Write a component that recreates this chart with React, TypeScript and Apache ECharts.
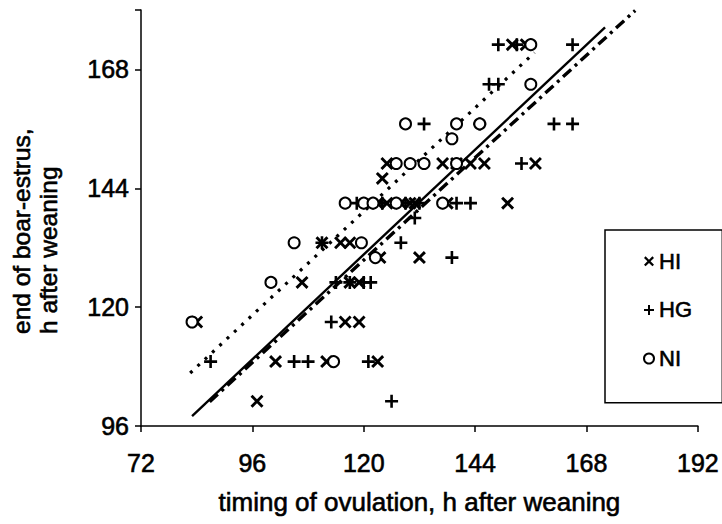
import React, { useEffect, useRef } from "react";
import * as echarts from "echarts";

// HI (×)
const hiX = [84, 97, 101, 106.7, 111, 112, 115, 117, 116, 119, 117, 119, 123, 121, 123, 124, 125, 123.5, 125, 128, 130, 131, 132, 137, 138, 140, 143, 146, 151, 152, 155, 157];
const hiY = [117, 101, 109, 125, 133, 109, 133, 133, 117, 117, 125, 125, 109, 141, 141, 146, 149, 130, 141, 141, 141, 141, 130, 149, 141, 149, 149, 149, 141, 173, 173, 149];
// HG (+)
const hgX = [87, 105, 108, 111, 113, 114, 117, 120, 121.5, 121, 118.5, 124, 126, 128, 129, 131, 132, 133, 139, 140, 143, 145, 147, 149, 149, 153, 154, 161, 165, 165];
const hgY = [109, 109, 109, 133, 117, 125, 125, 125, 125, 109, 141, 141, 101, 133, 141, 138, 141, 157, 130, 141, 141, 157, 165, 165, 173, 173, 149, 157, 157, 173];
// NI (o)
const niX = [83, 100, 105, 113.5, 116, 119.5, 120, 122, 122.5, 127, 127, 129, 130, 133, 137, 139, 140, 140, 145, 156, 156];
const niY = [117, 125, 133, 109, 141, 133, 141, 141, 130, 141, 149, 157, 149, 149, 141, 154, 149, 157, 157, 165, 173];

// regression lines (end points)
const solidX = [83, 172];
const solidY = [98.0, 176.5];
const dottedX = [82.6, 156.8];
const dottedY = [106.7, 171.4];
const dashDotX = [86.8, 178.5];
const dashDotY = [100.9, 179.9];

const xTicks = [72, 96, 120, 144, 168, 192];
const yTicks = [96, 120, 144, 168];

const FONT = "'Liberation Sans', Arial, sans-serif";

const CROSS = "path://M0,1.9L1.9,0L6,4.1L10.1,0L12,1.9L7.9,6L12,10.1L10.1,12L6,7.9L1.9,12L0,10.1L4.1,6Z";
const PLUS = "path://M4.8,0H7.2V4.8H12V7.2H7.2V12H4.8V7.2H0V4.8H4.8Z";

const zip = (xs: number[], ys: number[]) => xs.map((x, i) => [x, ys[i]]);

const txt = { color: "#000", fontFamily: FONT, textBorderColor: "#000", textBorderWidth: 0.6 };

export default function App() {
  const ref = useRef<HTMLDivElement>(null);
  useEffect(() => {
    if (!ref.current) return;
    const chart = echarts.init(ref.current, undefined, { renderer: "svg" });
    chart.setOption({
      animation: false,
      backgroundColor: "#fff",
      grid: { left: 141, right: 21, top: 10, bottom: 98 },
      xAxis: {
        type: "value",
        min: xTicks[0],
        max: xTicks[xTicks.length - 1],
        interval: 24,
        name: "timing of ovulation, h after weaning",
        nameLocation: "middle",
        nameGap: 63,
        nameTextStyle: { fontSize: 26, ...txt },
        axisLine: { lineStyle: { color: "#000", width: 1.5 } },
        axisTick: { show: true, length: 6, lineStyle: { color: "#000", width: 1.5 } },
        axisLabel: { fontSize: 25, margin: 24, ...txt },
        splitLine: { show: false },
      },
      yAxis: {
        type: "value",
        min: yTicks[0],
        max: 180,
        interval: 24,
        axisLine: { show: true, lineStyle: { color: "#000", width: 1.5 } },
        axisTick: { show: true, length: 6, lineStyle: { color: "#000", width: 1.5 } },
        axisLabel: {
          fontSize: 25,
          margin: 12,
          ...txt,
          formatter: (v: number) => (yTicks.includes(v) ? String(v) : ""),
        },
        splitLine: { show: false },
      },
      legend: {
        orient: "vertical",
        left: 605,
        top: 230,
        padding: [20, 30, 33, 38],
        itemGap: 26,
        itemWidth: 10,
        itemHeight: 10,
        borderColor: "#000",
        borderWidth: 1.5,
        textStyle: { fontSize: 22, ...txt },
        data: ["HI", "HG", "NI"],
      },
      graphic: [
        {
          type: "text",
          x: 35,
          y: 334,
          rotation: Math.PI / 2,
          style: {
            text: "end of boar-estrus,\nh after weaning",
            align: "left",
            verticalAlign: "middle",
            fontSize: 24.5,
            lineHeight: 27,
            fontFamily: FONT,
            fill: "#000",
            stroke: "#000",
            lineWidth: 0.6,
          },
        },
      ],
      series: [
        {
          name: "solid",
          type: "line",
          data: zip(solidX, solidY),
          symbol: "none",
          lineStyle: { color: "#000", width: 2.4, type: "solid" },
          z: 3,
        },
        {
          name: "dotted",
          type: "line",
          data: zip(dottedX, dottedY),
          symbol: "none",
          lineStyle: { color: "#000", width: 3.2, type: [3, 7] },
          z: 3,
        },
        {
          name: "dashdot",
          type: "line",
          data: zip(dashDotX, dashDotY),
          symbol: "none",
          lineStyle: { color: "#000", width: 3.4, type: [11, 5, 3, 5] },
          z: 3,
        },
        {
          name: "HI",
          type: "scatter",
          data: zip(hiX, hiY),
          symbol: CROSS,
          symbolSize: 13,
          itemStyle: { color: "#000", opacity: 1 },
          z: 4,
        },
        {
          name: "HG",
          type: "scatter",
          data: zip(hgX, hgY),
          symbol: PLUS,
          symbolSize: 13,
          itemStyle: { color: "#000", opacity: 1 },
          z: 4,
        },
        {
          name: "NI",
          type: "scatter",
          data: zip(niX, niY),
          symbol: "emptyCircle",
          symbolSize: 11,
          itemStyle: { color: "#000", borderColor: "#000", borderWidth: 2.6, opacity: 1 },
          z: 4,
        },
      ],
    });
    return () => chart.dispose();
  }, []);
  return <div ref={ref} style={{ width: 722, height: 524, position: "absolute", left: 0, top: 0 }} />;
}
